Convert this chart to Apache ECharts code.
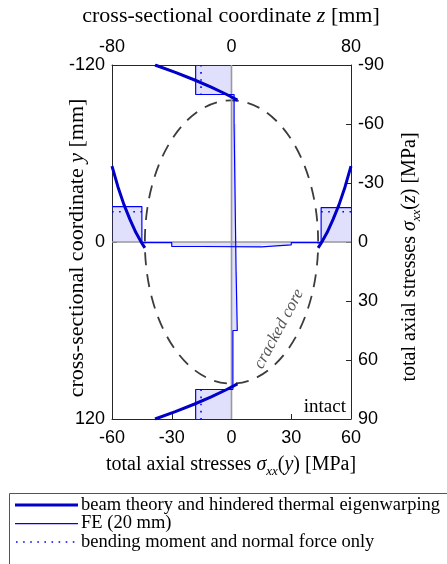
<!DOCTYPE html>
<html><head><meta charset="utf-8">
<script src="https://cdn.jsdelivr.net/npm/echarts@6/dist/echarts.min.js"></script>
<style>html,body{margin:0;padding:0;background:#fff}#c{width:447px;height:564px}</style>
</head><body><div id="c"></div>
<script>
// axis ranges [min, max, interval]
const stressYAxisRange = [-60, 60, 30];   // bottom: sigma_xx(y) [MPa]
const zAxisRange = [-80, 80, 80];         // top: z [mm]
const yAxisRange = [-120, 120, 120];      // left: y [mm]
const stressZAxisRange = [-90, 90, 30];   // right: sigma_xx(z) [MPa]

// beam theory and hindered thermal eigenwarping: sigma_xx(y) vs y -> [sigma, y]
const beamYTop = [[-38.4,-120],[-28.2,-115],[-18.8,-110],[-10.2,-105],[-2.4,-100],[3.0,-96.2]];
const beamYBottom = [[3.0,96.2],[-2.4,100],[-10.2,105],[-18.8,110],[-28.2,115],[-38.4,120]];
// beam theory: sigma_xx(z) vs z -> [z, sigma]
const beamZLeft = [[-80,-38.6],[-76,-28],[-72,-19],[-68,-11.5],[-64,-4.8],[-60,0.6],[-58,3.0]];
const beamZRight = [[58,3.0],[60,0.6],[64,-4.8],[68,-11.5],[72,-19],[76,-28],[80,-38.6]];

// FE (20 mm) element stresses -> [from, to, sigma]
const feYElements = [[-120,-100,-18],[-100,-80,1.3],[-80,20,2.3],[20,60,2.9],[60,100,0.7],[100,120,-18]];
const feZElements = [[-80,-60,-18],[-60,-40,0.3],[-40,-20,2.3],[-20,20,2.5],[20,40,1.5],[40,60,0.3],[60,80,-17.5]];

// bending moment and normal force only
const bmYTop = [[-15.3,-120],[-15.3,-100]];
const bmYBottom = [[-15.3,100],[-15.3,120]];
const bmZLeft = [[-80,-15.4],[-60,-15.4]];
const bmZRight = [[60,-15.4],[80,-15.4]];

// zero lines
const zeroStressY = [[0,-120],[0,120]];
const zeroStressZ = [[-80,0],[80,0]];

// cracked core ellipse: [z centre, y centre, semi-axis z, semi-axis y]
const crackedCore = [[0, 0, 58, 96]];

const feYLine = feYElements.flatMap(([a,b,s]) => [[s,a],[s,b]]);
const feZLine = feZElements.flatMap(([a,b,s]) => [[a,s],[b,s]]);

const SERIF = '"Liberation Serif", "DejaVu Serif", serif';
const SANS = '"Liberation Sans", Arial, sans-serif';
const DARK = '#0000c8';
const BLUE = '#0000ff';
const FILL = 'rgba(70,70,245,0.17)';

function axisCommon(r, pos, margin) {
  return {
    type: 'value', min: r[0], max: r[1], interval: r[2], position: pos,
    axisLine: {show: true, onZero: false, lineStyle: {color: '#262626', width: 1}},
    axisTick: {show: true, inside: true, length: 5, lineStyle: {color: '#262626'}},
    axisLabel: {fontFamily: SANS, fontSize: 18, color: '#000', margin: margin},
    splitLine: {show: false}
  };
}

const chart = echarts.init(document.getElementById('c'), null, {renderer: 'canvas'});

function lineS(data, xi, yi, style, z) {
  return {type: 'line', xAxisIndex: xi, yAxisIndex: yi, data, showSymbol: false, symbol: 'none',
    lineStyle: style, silent: true, z: z || 3, animation: false};
}

function rectY(params, api) {
  const a = api.value(0), b = api.value(1), s = api.value(2);
  const p0 = api.coord([0, a]), p1 = api.coord([s, b]);
  return {type: 'rect', shape: {x: Math.min(p0[0],p1[0]), y: Math.min(p0[1],p1[1]),
    width: Math.abs(p1[0]-p0[0]), height: Math.abs(p1[1]-p0[1])}, style: {fill: FILL}};
}
function rectZ(params, api) {
  const a = api.value(0), b = api.value(1), s = api.value(2);
  const p0 = api.coord([a, 0]), p1 = api.coord([b, s]);
  return {type: 'rect', shape: {x: Math.min(p0[0],p1[0]), y: Math.min(p0[1],p1[1]),
    width: Math.abs(p1[0]-p0[0]), height: Math.abs(p1[1]-p0[1])}, style: {fill: FILL}};
}
function ellipseItem(params, api) {
  const c = api.coord([api.value(0), api.value(1)]);
  const e = api.coord([api.value(0) + api.value(2), api.value(1) + api.value(3)]);
  return {type: 'ellipse', shape: {cx: c[0], cy: c[1], rx: Math.abs(e[0]-c[0]), ry: Math.abs(e[1]-c[1])},
    style: {fill: 'none', stroke: '#3c3c3c', lineWidth: 1.8, lineDash: [13, 9]}};
}

function mkRich(size) {
  return {
    n: {fontFamily: SERIF, fontSize: size, lineHeight: size + 6, fill: '#000'},
    i: {fontFamily: SERIF, fontSize: size, lineHeight: size + 6, fontStyle: 'italic'},
    s: {fontFamily: SERIF, fontSize: Math.round(size * 0.65), lineHeight: Math.round(size * 0.65), fontStyle: 'italic', verticalAlign: 'bottom'}
  };
}
const richBig = mkRich(22);
const richMid = mkRich(20);

const option = {
  backgroundColor: '#fff',
  animation: false,
  grid: {left: 112, top: 65, right: 96, bottom: 145, containLabel: false},
  xAxis: [axisCommon(stressYAxisRange, 'bottom', 10), axisCommon(zAxisRange, 'top', 9)],
  yAxis: [Object.assign(axisCommon(yAxisRange, 'left', 7), {inverse: true}),
          Object.assign(axisCommon(stressZAxisRange, 'right', 7), {inverse: true})],
  series: [
    {type: 'custom', xAxisIndex: 0, yAxisIndex: 0, data: feYElements, renderItem: rectY, silent: true, z: 1},
    {type: 'custom', xAxisIndex: 1, yAxisIndex: 1, data: feZElements, renderItem: rectZ, silent: true, z: 1},
    lineS(zeroStressY, 0, 0, {color: '#9a9a9a', width: 1.6}, 2),
    lineS(zeroStressZ, 1, 1, {color: '#9a9a9a', width: 1.6}, 2),
    {type: 'custom', xAxisIndex: 1, yAxisIndex: 0, data: crackedCore, renderItem: ellipseItem, silent: true, z: 2},
    lineS(feYLine, 0, 0, {color: BLUE, width: 1.2}),
    lineS(feZLine, 1, 1, {color: BLUE, width: 1.2}),
    lineS(bmYTop, 0, 0, {color: BLUE, width: 1.6, type: [1.6, 5.5]}),
    lineS(bmYBottom, 0, 0, {color: BLUE, width: 1.6, type: [1.6, 5.5]}),
    lineS(bmZLeft, 1, 1, {color: BLUE, width: 1.6, type: [1.6, 5.5]}),
    lineS(bmZRight, 1, 1, {color: BLUE, width: 1.6, type: [1.6, 5.5]}),
    lineS(beamYTop, 0, 0, {color: DARK, width: 3}, 4),
    lineS(beamYBottom, 0, 0, {color: DARK, width: 3}, 4),
    lineS(beamZLeft, 1, 1, {color: DARK, width: 3}, 4),
    lineS(beamZRight, 1, 1, {color: DARK, width: 3}, 4)
  ],
  graphic: [
    {type: 'text', x: 231, y: 16, style: {text: '{n|cross-sectional coordinate }{i|z}{n| [mm]}', rich: richBig, align: 'center', verticalAlign: 'middle'}},
    {type: 'text', x: 231, y: 465, style: {text: '{n|total axial stresses }{i|σ}{s|xx}{n|(}{i|y}{n|) [MPa]}', rich: richMid, align: 'center', verticalAlign: 'middle'}},
    {type: 'text', x: 77, y: 248, rotation: Math.PI/2, style: {text: '{n|cross-sectional coordinate }{i|y}{n| [mm]}', rich: richBig, align: 'center', verticalAlign: 'middle'}},
    {type: 'text', x: 410, y: 257, rotation: Math.PI/2, style: {text: '{n|total axial stresses }{i|σ}{s|xx}{n|(}{i|z}{n|) [MPa]}', rich: richMid, align: 'center', verticalAlign: 'middle'}},
    {type: 'text', x: 279, y: 329, rotation: 1.08, style: {text: 'cracked core', font: 'italic 17px ' + SERIF, fill: '#555', align: 'center', verticalAlign: 'middle'}},
    {type: 'text', x: 346, y: 407, style: {text: 'intact', font: '19px ' + SERIF, fill: '#000', align: 'right', verticalAlign: 'middle'}},
    // legend box
    {type: 'rect', shape: {x: 9.5, y: 493.5, width: 470, height: 90}, style: {fill: '#fff', stroke: '#555', lineWidth: 1}, z: 10},
    {type: 'rect', shape: {x: 15, y: 503.5, width: 63, height: 3}, style: {fill: DARK}, z: 11},
    {type: 'rect', shape: {x: 15, y: 523, width: 63, height: 1.3}, style: {fill: BLUE}, z: 11},
    {type: 'line', shape: {x1: 16, y1: 542, x2: 78, y2: 542}, style: {stroke: BLUE, lineWidth: 1.6, lineDash: [1.6, 5.5]}, z: 11},
    {type: 'text', x: 81, y: 505, style: {text: 'beam theory and hindered thermal eigenwarping', font: '18.5px ' + SERIF, fill: '#000', verticalAlign: 'middle'}, z: 11},
    {type: 'text', x: 81, y: 523.5, style: {text: 'FE (20 mm)', font: '18.5px ' + SERIF, fill: '#000', verticalAlign: 'middle'}, z: 11},
    {type: 'text', x: 81, y: 542, style: {text: 'bending moment and normal force only', font: '18.5px ' + SERIF, fill: '#000', verticalAlign: 'middle'}, z: 11}
  ]
};
chart.setOption(option);
</script></body></html>
